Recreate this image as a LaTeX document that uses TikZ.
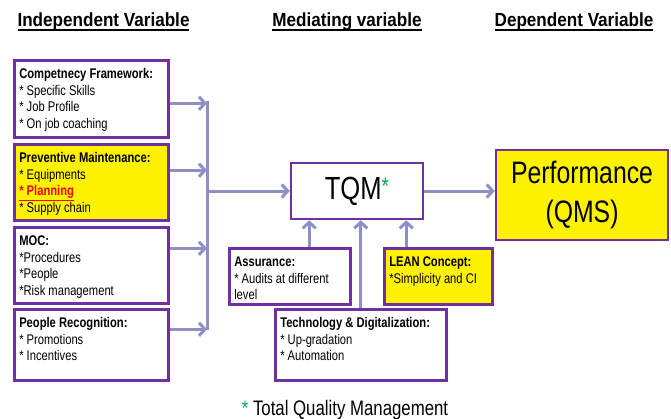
\documentclass[tikz,border=0pt]{standalone}
\usepackage{fontspec}
\setmainfont{Liberation Sans}[FakeStretch=0.8]
\newfontfamily\headfont{Liberation Sans}[FakeStretch=0.9]
\usetikzlibrary{arrows.meta}
\definecolor{boxpurple}{RGB}{112,48,160}
\definecolor{flowblue}{RGB}{143,143,199}
\definecolor{tqmgreen}{RGB}{0,176,80}
\newcommand{\cellbox}[3]{\parbox[c][#2][t]{#1}{\strut#3}}
\newcommand{\headrule}[1]{\sbox0{#1}\rlap{\usebox0}\rule[-5pt]{\wd0}{2pt}}

\begin{document}
\begin{tikzpicture}[
    x=1pt, y=-1pt,
    ivbox/.style={%
      draw=boxpurple,
      line width=2.5pt,
      inner xsep=5pt,
      inner ysep=7pt,
      anchor=north west,
      align=left,
      font=\fontsize{14}{16.5}\selectfont,
    },
    mainbox/.style={%
      draw=boxpurple,
      line width=2.5pt,
      align=center,
    },
    flow/.style={%
      draw=flowblue,
      line width=3pt,
      -{Straight Barb[length=6pt,width=13pt]},
    },
    bus/.style={draw=flowblue, line width=3pt},
    heading/.style={anchor=base, font=\headfont\bfseries\fontsize{19}{22}\selectfont},
  ]

    \useasboundingbox (0,0) rectangle (671,418);

    \node [heading] (ivhead) at (103.5,26) {\headrule{Independent Variable}};
    \node [heading] (mvhead) at (347,26) {\headrule{Mediating variable}};
    \node [heading] (dvhead) at (574,26) {\headrule{Dependent Variable}};

    \node [ivbox] (comp) at (13,59) {\cellbox{144pt}{63pt}{\textbf{Competnecy Framework:}\\{}* Specific Skills\\{}* Job Profile\\{}* On job coaching}};
    \node [ivbox, fill=yellow] (prevm) at (13,143) {\cellbox{144pt}{62pt}{\textbf{Preventive Maintenance:}\\{}* Equipments\\{}\textcolor{red}{\textbf{\underline{* Planning}}}\\{}* Supply chain}};
    \node [ivbox] (moc) at (13,226) {\cellbox{144pt}{62pt}{\textbf{MOC:}\\{}*Procedures\\{}*People\\{}*Risk management}};
    \node [ivbox] (recog) at (13,308) {\cellbox{144pt}{57pt}{\textbf{People Recognition:}\\{}* Promotions\\{}* Incentives}};

    \node [mainbox, minimum width=132pt, minimum height=56pt, font=\fontsize{32}{36}\selectfont] (tqm) at (357,191) {TQM\textcolor{tqmgreen}{\fontsize{24}{26}\selectfont\raisebox{5pt}{*}}};
    \node [mainbox, fill=yellow, minimum width=172pt, minimum height=90pt, font=\fontsize{31}{39}\selectfont] (perf) at (582,195) {Performance\\(QMS)};

    \node [ivbox] (assur) at (228,247) {\cellbox{111pt}{42pt}{\textbf{Assurance:}\\{}* Audits at different\\level}};
    \node [ivbox, fill=yellow] (lean) at (383,247) {\cellbox{98pt}{42pt}{\textbf{LEAN Concept:}\\{}*Simplicity and CI}};
    \node [ivbox] (tech) at (274,308) {\cellbox{161pt}{57pt}{\textbf{Technology \& Digitalization:}\\{}* Up-gradation\\{}* Automation}};

    \node [anchor=base, font=\fontsize{21}{24}\selectfont] (note) at (345,415) {\textcolor{tqmgreen}{*} Total Quality Management};

    \coordinate (bustop) at (207,100.5);
    \coordinate (busmid) at (207,191);
    \coordinate (busbot) at (207,329.5);

    \draw [bus] (bustop) -- (busbot);
    \draw [flow] ([yshift=-4.5pt]comp.east) -- ([yshift=-4.5pt]comp.east -| bustop);
    \draw [flow] ([yshift=12pt]prevm.east) -- ([yshift=12pt]prevm.east -| bustop);
    \draw [flow] ([yshift=17pt]moc.east) -- ([yshift=17pt]moc.east -| bustop);
    \draw [flow] ([yshift=15.5pt]recog.east) -- ([yshift=15.5pt]recog.east -| bustop);
    \draw [flow] (busmid) -- (tqm.west);
    \draw [flow] (tqm.east) -- (tqm.east -| perf.west);
    \draw [flow] ([xshift=19.5pt]assur.north) -- ([xshift=19.5pt]assur.north |- tqm.south);
    \draw [flow] (tech.north) -- (tech.north |- tqm.south);
    \draw [flow] ([xshift=-32pt]lean.north) -- ([xshift=-32pt]lean.north |- tqm.south);
\end{tikzpicture}
\end{document}
